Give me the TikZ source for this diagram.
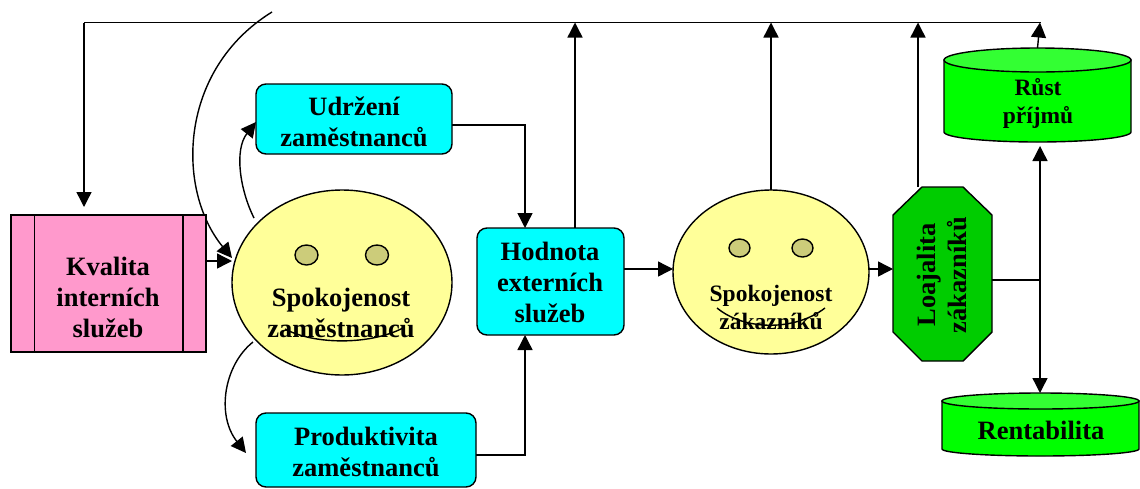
\documentclass[tikz,border=0pt]{standalone}
\usepackage{fontspec}
\setmainfont{Liberation Serif}
\usetikzlibrary{arrows.meta,shapes.geometric,backgrounds}
\definecolor{pinkbox}{HTML}{FF99CC}
\definecolor{cyanbox}{HTML}{00FFFF}
\definecolor{face}{HTML}{FFFF99}
\definecolor{eye}{HTML}{CCCC7A}
\definecolor{greenbody}{HTML}{00FF00}
\definecolor{greentop}{HTML}{33FF33}
\definecolor{greenoct}{HTML}{00CC00}
\tikzset{
  x=1pt,y=-1pt,
  every node/.style={inner sep=0pt,outer sep=0pt},
  ln/.style={draw=black,line width=1.4pt},
  arr/.style={ln,-{Triangle[length=15pt,width=15pt]}},
  arrb/.style={ln,{Triangle[length=15pt,width=15pt]}-{Triangle[length=15pt,width=15pt]}},
  txt/.style={font=\fontsize{26.5}{31}\selectfont\bfseries,align=center,text=black},
  txts/.style={font=\fontsize{23.5}{28}\selectfont\bfseries,align=center,text=black},
  roundbox/.style={ln,fill=cyanbox,rounded corners=10pt},
  facebox/.style={ln,fill=face,ellipse},
  eyebox/.style={ln,fill=eye,ellipse,minimum width=23pt,minimum height=20pt},
  cylbody/.style={ln,fill=greenbody},
  cyltop/.style={ln,fill=greentop},
}
\begin{document}
\begin{tikzpicture}
\useasboundingbox (0,0) rectangle (1140,488);
% boxes
\node[ln,fill=pinkbox,minimum width=195pt,minimum height=137pt] (kvalita) at (108.5,283.5) {};
\draw[ln] (34.5,215) -- (34.5,352) (183,215) -- (183,352);
\node[txt] (kvalitat) at (108,297) {Kvalita\\interních\\služeb};
\node[facebox,minimum width=220pt,minimum height=185pt] (zam) at (342,282.5) {};
\node[eyebox] (zameye1) at (306.5,255) {};
\node[eyebox] (zameye2) at (377,255) {};
\draw[ln] (285,329) .. controls (315,345) and (370,345) .. (403,328);
\node[txt] (zamt) at (341,313) {Spokojenost\\zaměstnanců};
\node[roundbox,minimum width=196pt,minimum height=70pt] (udrz) at (354,119) {};
\node[txt] (udrzt) at (354,122) {Udržení\\zaměstnanců};
\node[roundbox,minimum width=220pt,minimum height=74pt] (prod) at (366,450) {};
\node[txt] (prodt) at (366,452) {Produktivita\\zaměstnanců};
\node[roundbox,minimum width=147pt,minimum height=107pt] (hodn) at (550.5,281.5) {};
\node[txt] (hodnt) at (550,282) {Hodnota\\externích\\služeb};
\node[facebox,minimum width=196pt,minimum height=164pt] (zak) at (771,272) {};
\node[eyebox,minimum width=21pt,minimum height=18pt] (zakeye1) at (739.5,248) {};
\node[eyebox,minimum width=21pt,minimum height=18pt] (zakeye2) at (802.5,248) {};
\draw[ln] (717,308) .. controls (745,331) and (795,331) .. (825,308);
\node[txts] (zakt) at (771,307) {Spokojenost\\zákazníků};
\draw[ln,fill=greenoct] (922,187) -- (963,187) -- (992,215) -- (992,332) -- (963,361) -- (922,361) -- (893,332) -- (893,215) -- cycle;
\node[minimum width=99pt,minimum height=174pt] (loaj) at (942.5,274) {};
\node[txt,rotate=90] (loajt) at (942,275) {Loajalita\\zákazníků};
\draw[cylbody] (944,60) -- (944,132) arc[start angle=180,end angle=360,x radius=93.5pt,y radius=10pt] -- (1131,60) -- cycle;
\draw[cyltop] (1037.5,60) ellipse[x radius=93.5pt,y radius=12pt];
\node[minimum width=187pt,minimum height=94pt] (rust) at (1037.5,95) {};
\node[txts] (rustt) at (1038,103) {Růst\\příjmů};
\draw[cylbody] (942,401) -- (942,449) arc[start angle=180,end angle=360,x radius=98.5pt,y radius=7pt] -- (1139,401) -- cycle;
\draw[cyltop] (1040.5,401) ellipse[x radius=98.5pt,y radius=8pt];
\node[minimum width=197pt,minimum height=63pt] (rent) at (1040.5,424.5) {};
\node[txt] (rentt) at (1041,430) {Rentabilita};
% free ends
\coordinate (topL) at (84,22.5);
\coordinate (topR) at (1041,22.5);
\coordinate (curveStart) at (272,12);
\coordinate (zamIn) at (232,258);
\coordinate (junction) at (1040,280);
% connectors
\begin{scope}[on background layer]
\draw[ln] (topL) -- (topR);
\draw[arr,shorten >=8pt] (topL) -- (topL |- kvalita.north);
\draw[arr] (hodn.north -| 575,0) -- (575,22.5);
\draw[arr] (zak.north) -- (zak.north |- topL);
\draw[arr] (loaj.north -| 918,0) -- (918,22.5);
\draw[arr] (rust.north) -- (topR -| 1040,0);
\draw[arr] (curveStart) .. controls (178,70) and (176,190) .. (zamIn);
\draw[arr] (kvalita.east |- 0,261) -- (232,261);
\draw[arr] (254,218) .. controls (240,190) and (234,150) .. (256,122);
\draw[arr] (253,342) .. controls (224,365) and (216,415) .. (246,453);
\draw[arr] (udrz.east |- 0,125) -| (hodn.north -| 525,0);
\draw[arr] (prod.east |- 0,455) -| (hodn.south -| 525,0);
\draw[arr] (hodn.east |- 0,269) -- (zak.west |- 0,269);
\draw[arr] (zak.east |- 0,269) -- (loaj.west |- 0,269);
\draw[ln] (loaj.east |- junction) -- (junction);
\draw[arrb,shorten <=4pt] (junction |- rust.south) -- (junction |- rent.north);
\end{scope}
\end{tikzpicture}
\end{document}
